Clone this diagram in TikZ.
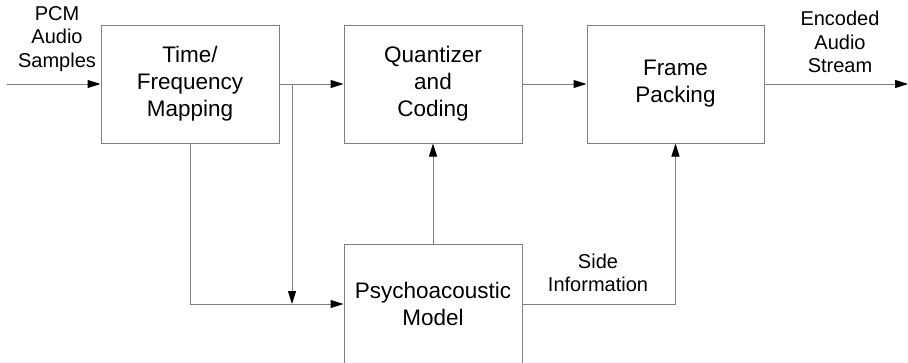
\documentclass[tikz,border=0pt]{standalone}
\usepackage{fontspec}
\setmainfont{Liberation Sans}
\usetikzlibrary{arrows.meta}
\definecolor{ln}{gray}{0.5}
\tikzset{
  blk/.style={draw=ln, line width=1pt, fill=white, minimum width=178pt, inner sep=0pt,
    align=center, font=\fontsize{22.5}{27}\selectfont},
  lbl/.style={align=center, inner sep=0pt, font=\fontsize{20}{23.5}\selectfont},
  conn/.style={draw=ln, line width=1pt, -{Triangle[length=13pt,width=8pt,black]}},
  plain/.style={draw=ln, line width=1pt}
}
\begin{document}
\begin{tikzpicture}[x=1pt,y=-1pt]
\useasboundingbox (0,0) rectangle (908,362);
\clip (0,0) rectangle (908,362);
\node[blk, minimum height=118pt] (tf) at (190,84) {Time/\\Frequency\\Mapping};
\node[blk, minimum height=118pt] (q) at (433,84) {Quantizer\\and\\Coding};
\node[blk, minimum height=118pt, minimum width=177pt] (fp) at (675.5,84) {Frame\\Packing};
\node[blk, minimum height=120pt] (pm) at (433,304) {Psychoacoustic\\Model};
\coordinate (in) at (7,84);
\coordinate (out) at (908,84);
\coordinate (br) at (292,84);
\coordinate (brd) at (292,304);
\node[lbl] (pcm) at (57,39) {PCM\\Audio\\Samples};
\node[lbl] (enc) at (840,42) {Encoded\\Audio\\Stream};
\node[lbl] (side) at (598,273) {Side\\Information};
\draw[conn] (in) -- (tf.west);
\draw[conn] (tf.east) -- (q.west);
\draw[conn] (br) -- (brd);
\draw[conn] (tf.south) |- (pm.west);
\draw[conn] (pm.north) -- (q.south);
\draw[conn] (q.east) -- (fp.west);
\draw[conn] (fp.east) -- (out);
\draw[conn] (pm.east) -| (fp.south);
\end{tikzpicture}
\end{document}
